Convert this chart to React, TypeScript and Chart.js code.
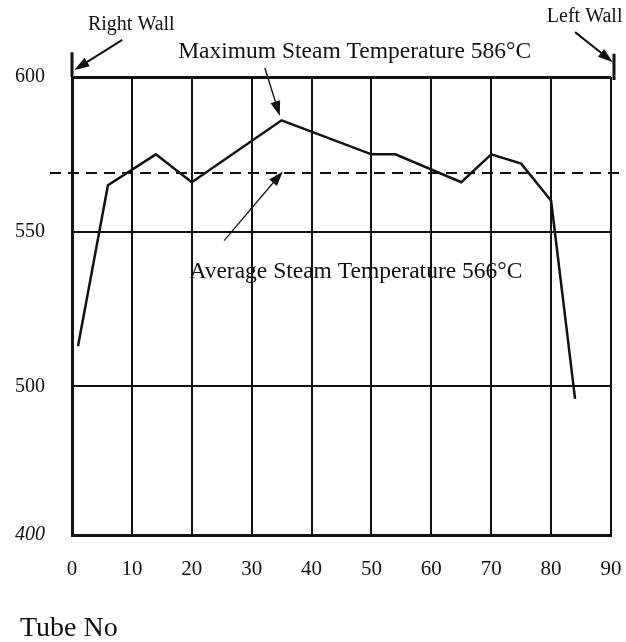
import React, { useEffect, useRef } from "react";
import { Chart, registerables } from "chart.js";

Chart.register(...registerables);

// ---- data ----
const tubeNo = [1, 6, 14, 20, 35, 50, 54, 65, 70, 75, 80, 84];
const steamTemp = [513, 565, 575, 566, 586, 575, 575, 566, 575, 572, 560, 496];
const averageLineValue = 569;
const xTickValues = [0, 10, 20, 30, 40, 50, 60, 70, 80, 90];
const yTickValues = [452, 500, 550, 600];
const yTickLabels = ["400", "500", "550", "600"];

const SERIF = '"Liberation Serif", "Times New Roman", serif';

function arrow(ctx: CanvasRenderingContext2D, x1: number, y1: number, x2: number, y2: number, width = 1.6) {
  const ang = Math.atan2(y2 - y1, x2 - x1);
  const len = 15;
  const hw = 5;
  ctx.save();
  ctx.strokeStyle = "#111";
  ctx.fillStyle = "#111";
  ctx.lineWidth = width;
  ctx.beginPath();
  ctx.moveTo(x1, y1);
  ctx.lineTo(x2 - Math.cos(ang) * len * 0.6, y2 - Math.sin(ang) * len * 0.6);
  ctx.stroke();
  ctx.beginPath();
  ctx.moveTo(x2, y2);
  ctx.lineTo(x2 - Math.cos(ang) * len - Math.sin(ang) * hw, y2 - Math.sin(ang) * len + Math.cos(ang) * hw);
  ctx.lineTo(x2 - Math.cos(ang) * len + Math.sin(ang) * hw, y2 - Math.sin(ang) * len - Math.cos(ang) * hw);
  ctx.closePath();
  ctx.fill();
  ctx.restore();
}

const overlay = {
  id: "overlay",
  afterDatasetsDraw(chart: any) {
    const { ctx, chartArea } = chart;
    const xs = chart.scales.x;
    const ys = chart.scales.y;
    const px = (v: number) => xs.getPixelForValue(v);
    const py = (v: number) => ys.getPixelForValue(v);

    // average dashed line
    ctx.save();
    ctx.strokeStyle = "#111";
    ctx.lineWidth = 2;
    ctx.setLineDash([11, 7]);
    ctx.beginPath();
    ctx.moveTo(chartArea.left - 22, py(averageLineValue));
    ctx.lineTo(chartArea.right + 16, py(averageLineValue));
    ctx.stroke();
    ctx.restore();

    // wall ticks
    ctx.save();
    ctx.strokeStyle = "#111";
    ctx.lineWidth = 3;
    ctx.beginPath();
    ctx.moveTo(px(0), py(608));
    ctx.lineTo(px(0), py(600));
    ctx.moveTo(px(90) + 3, py(607.5));
    ctx.lineTo(px(90) + 3, py(599));
    ctx.stroke();
    ctx.restore();

    // arrows
    arrow(ctx, px(8.4), py(612), px(0.4), py(602.3), 2);
    arrow(ctx, px(84.0), py(614.5), px(90.3), py(604.8), 2);
    arrow(ctx, px(32.2), py(602.9), px(34.7), py(587.4), 1.4);
    arrow(ctx, px(25.4), py(547.1), px(35.2), py(569.5), 1.2);

    // texts
    ctx.save();
    ctx.fillStyle = "#111";
    ctx.textAlign = "center";
    ctx.textBaseline = "middle";
    ctx.font = `20px ${SERIF}`;
    ctx.fillText("Right Wall", px(9.9), py(616.8));
    ctx.fillText("Left Wall", px(85.6), py(619.4));
    ctx.font = `23.5px ${SERIF}`;
    ctx.fillText("Maximum Steam Temperature 586°C", px(47.2), py(608.1));
    ctx.fillText("Average Steam Temperature 566°C", px(47.4), py(537.1));
    ctx.textAlign = "left";
    ctx.font = `28px ${SERIF}`;
    ctx.fillText("Tube No", 20, 629);
    ctx.restore();
  },
};

export default function App() {
  const ref = useRef<HTMLCanvasElement | null>(null);

  useEffect(() => {
    if (!ref.current) return;
    const chart = new Chart(ref.current, {
      type: "line",
      data: {
        datasets: [
          {
            data: tubeNo.map((t, i) => ({ x: t, y: steamTemp[i] })),
            borderColor: "#111",
            borderWidth: 2.5,
            pointRadius: 0,
            tension: 0,
            fill: false,
          },
        ],
      },
      options: {
        animation: false,
        responsive: false,
        maintainAspectRatio: false,
        layout: { padding: { left: 0, right: 15, top: 77, bottom: 0 } },
        plugins: { legend: { display: false }, tooltip: { enabled: false }, title: { display: false } },
        scales: {
          x: {
            type: "linear",
            min: 0,
            max: 90,
            afterBuildTicks: (scale: any) => {
              scale.ticks = xTickValues.map((v) => ({ value: v }));
            },
            afterFit: (scale: any) => {
              scale.height = 107;
              scale.paddingLeft = 0;
              scale.paddingRight = 0;
            },
            ticks: {
              color: "#111",
              font: { family: SERIF, size: 21 },
              padding: 22,
              maxRotation: 0,
              autoSkip: false,
            },
            grid: { color: "#111", lineWidth: 2, drawTicks: false },
            border: { display: true, color: "#111", width: 3 },
          },
          y: {
            type: "linear",
            min: 452,
            max: 600,
            afterBuildTicks: (scale: any) => {
              scale.ticks = yTickValues.map((v) => ({ value: v }));
            },
            afterFit: (scale: any) => {
              scale.width = 72;
              scale.paddingTop = 0;
              scale.paddingBottom = 0;
            },
            ticks: {
              color: "#111",
              padding: 27,
              autoSkip: false,
              font: (c: any) => ({
                family: SERIF,
                size: 20,
                style: c.tick && c.tick.value === yTickValues[0] ? "italic" : "normal",
              }),
              callback: (v: any) => {
                const i = yTickValues.indexOf(Number(v));
                return i >= 0 ? yTickLabels[i] : "";
              },
            },
            grid: {
              color: "#111",
              lineWidth: (c: any) => (c.tick && c.tick.value === 600 ? 3 : 2),
              drawTicks: false,
            },
            border: { display: true, color: "#111", width: 3 },
          },
        },
      },
      plugins: [overlay],
    } as any);
    return () => chart.destroy();
  }, []);

  return (
    <div style={{ position: "fixed", left: 0, top: 0, width: 626, height: 642, background: "#fff" }}>
      <canvas ref={ref} width={626} height={642} style={{ width: 626, height: 642, display: "block" }} />
    </div>
  );
}
